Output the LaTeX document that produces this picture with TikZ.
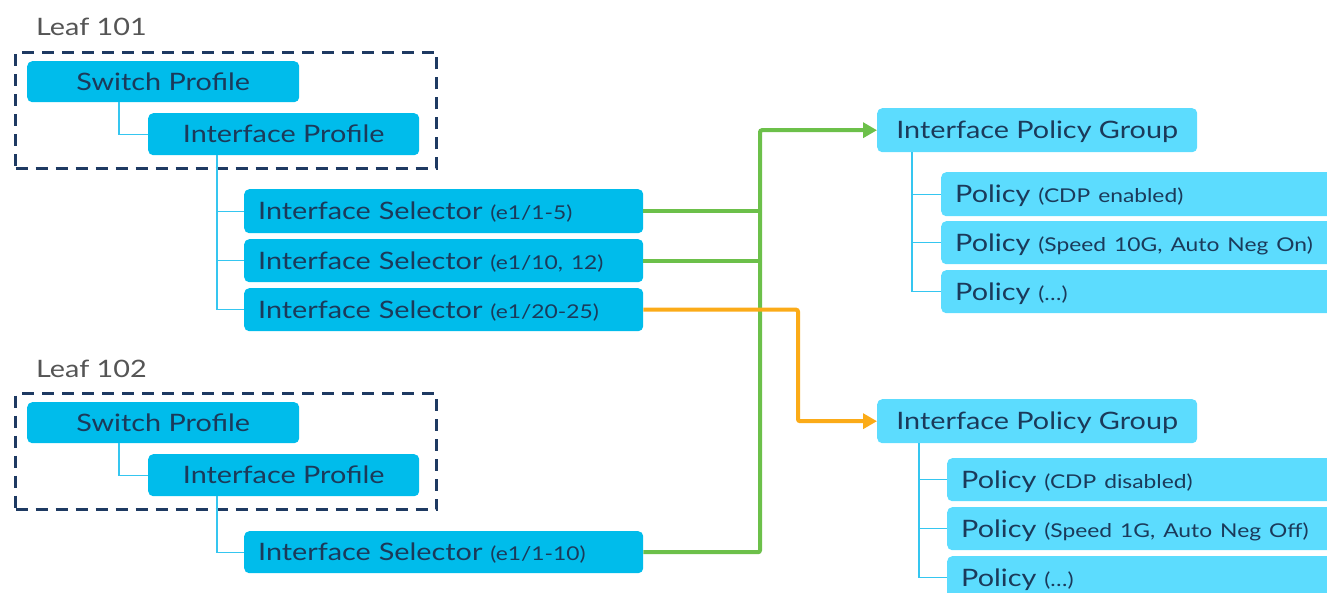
\documentclass[tikz,border=0pt]{standalone}
\usepackage{fontspec}
\setmainfont{Lato}[FakeStretch=1.2]
\usetikzlibrary{arrows.meta}
\definecolor{boxdark}{HTML}{00BCEB}
\definecolor{boxlight}{HTML}{5CDCFE}
\definecolor{txt}{HTML}{1B3A5A}
\definecolor{navy}{HTML}{1E3A62}
\definecolor{gcol}{HTML}{6CC04A}
\definecolor{ocol}{HTML}{FBAB18}
\definecolor{treec}{HTML}{35C6F0}
\definecolor{leafgray}{HTML}{555555}
\newcommand{\sm}[1]{{\fontsize{19}{22}\selectfont #1}}
\begin{document}
\begin{tikzpicture}[x=1pt,y=-1pt,
  base/.style={anchor=north west, rounded corners=5pt, text=txt,
    font=\fontsize{24}{28}\selectfont, inner ysep=0pt,
    text height=19pt, text depth=2pt},
  dbox/.style={base, fill=boxdark},
  lbox/.style={base, fill=boxlight},
  leftal/.style={inner xsep=14pt, align=left, text width=#1},
  leaflabel/.style={anchor=base west, inner sep=0pt, text=leafgray,
    font=\fontsize{24}{28}\selectfont},
  dashbox/.style={anchor=north west, draw=navy, line width=3pt,
    dash pattern=on 12pt off 8pt, inner sep=0pt},
  tree/.style={draw=treec, line width=1.3pt},
  gline/.style={draw=gcol, line width=4pt, rounded corners=2pt},
  oline/.style={draw=ocol, line width=4pt, rounded corners=2pt},
  tip/.style={-{Triangle[length=14pt,width=15pt]}}
]
\useasboundingbox (0,0) rectangle (1327,593);
\clip (0,0) rectangle (1327,593);

% Leaf 101
\node[leaflabel] (leaf1) at (36,36) {Leaf 101};
\node[dashbox, minimum width=421pt, minimum height=116pt] (grp1) at (14,51) {};
\node[dbox, minimum width=272pt, minimum height=41pt] (sp1) at (27,61) {Switch Profile};
\node[dbox, minimum width=271pt, minimum height=42pt] (ip1) at (148,113) {Interface Profile};
\node[dbox, leftal=371pt, minimum height=44pt] (sel1) at (244,189) {Interface Selector \sm{(e1/1-5)}};
\node[dbox, leftal=371pt, minimum height=43pt] (sel2) at (244,239) {Interface Selector \sm{(e1/10, 12)}};
\node[dbox, leftal=371pt, minimum height=43pt] (sel3) at (244,288) {Interface Selector \sm{(e1/20-25)}};

% Leaf 102
\node[leaflabel] (leaf2) at (36,377) {Leaf 102};
\node[dashbox, minimum width=421pt, minimum height=116pt] (grp2) at (14,392) {};
\node[dbox, minimum width=272pt, minimum height=41pt] (sp2) at (27,402) {Switch Profile};
\node[dbox, minimum width=271pt, minimum height=42pt] (ip2) at (148,454) {Interface Profile};
\node[dbox, leftal=371pt, minimum height=42pt] (sel4) at (244,531) {Interface Selector \sm{(e1/1-10)}};

% Policy groups
\node[lbox, minimum width=320pt, minimum height=44pt] (ipg1) at (877,108) {Interface Policy Group};
\node[lbox, leftal=392pt, minimum height=44pt] (p11) at (941,172) {Policy \sm{(CDP enabled)}};
\node[lbox, leftal=392pt, minimum height=43pt] (p12) at (941,221) {Policy \sm{(Speed 10G, Auto Neg On)}};
\node[lbox, leftal=392pt, minimum height=43pt] (p13) at (941,270) {Policy \sm{(\dots)}};

\node[lbox, minimum width=320pt, minimum height=44pt] (ipg2) at (877,399) {Interface Policy Group};
\node[lbox, leftal=392pt, minimum height=43pt] (p21) at (947,458) {Policy \sm{(CDP disabled)}};
\node[lbox, leftal=392pt, minimum height=43pt] (p22) at (947,507) {Policy \sm{(Speed 1G, Auto Neg Off)}};
\node[lbox, leftal=392pt, minimum height=43pt] (p23) at (947,556) {Policy \sm{(\dots)}};

% tree connectors
\draw[tree] ([xshift=92pt]sp1.south west) |- (ip1.west);
\draw[tree] ([xshift=69pt]ip1.south west) |- (sel1.west);
\draw[tree] ([xshift=69pt]ip1.south west) |- (sel2.west);
\draw[tree] ([xshift=69pt]ip1.south west) |- (sel3.west);
\draw[tree] ([xshift=92pt]sp2.south west) |- (ip2.west);
\draw[tree] ([xshift=69pt]ip2.south west) |- (sel4.west);
\draw[tree] ([xshift=35pt]ipg1.south west) |- (p11.west);
\draw[tree] ([xshift=35pt]ipg1.south west) |- (p12.west);
\draw[tree] ([xshift=35pt]ipg1.south west) |- (p13.west);
\draw[tree] ([xshift=42pt]ipg2.south west) |- (p21.west);
\draw[tree] ([xshift=42pt]ipg2.south west) |- (p22.west);
\draw[tree] ([xshift=42pt]ipg2.south west) |- (p23.west);

% green / orange links
\coordinate (gbus) at (760,130);
\coordinate (obus) at (798,420);
\draw[gline] (sel1.east) -- (sel1.east -| gbus);
\draw[gline] (sel2.east) -- (sel2.east -| gbus);
\draw[gline, tip] (sel4.east) -| (ipg1.west -| gbus) -- (ipg1.west);
\draw[oline, tip] (sel3.east) -| (ipg2.west -| obus) -- (ipg2.west);
\end{tikzpicture}
\end{document}
